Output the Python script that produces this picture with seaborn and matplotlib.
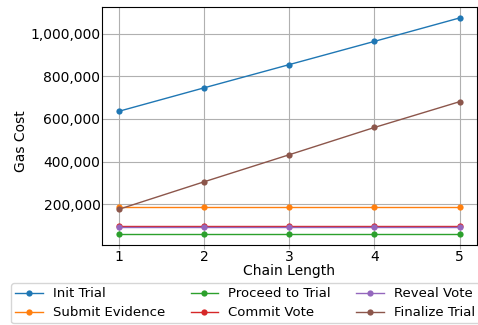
import matplotlib
matplotlib.use('Agg')
import matplotlib.pyplot as plt
import matplotlib.ticker as mticker
import seaborn as sns
import pandas as pd

# Data
chain_length = [1, 2, 3, 4, 5]
init_trial = [636000, 746000, 855000, 964000, 1074000]
submit_evidence = [187000, 187000, 187000, 187000, 187000]
proceed_to_trial = [59000, 59000, 59000, 59000, 59000]
commit_vote = [98000, 98000, 98000, 98000, 98000]
reveal_vote = [92000, 92000, 92000, 92000, 92000]
finalize_trial = [176000, 305000, 432000, 560000, 681000]

series = {
    'Init Trial': init_trial,
    'Submit Evidence': submit_evidence,
    'Proceed to Trial': proceed_to_trial,
    'Commit Vote': commit_vote,
    'Reveal Vote': reveal_vote,
    'Finalize Trial': finalize_trial,
}

rows = []
for name, vals in series.items():
    for x, v in zip(chain_length, vals):
        rows.append({'Chain Length': x, 'Gas Cost': v, 'Operation': name})
df = pd.DataFrame(rows)

plt.rcParams['font.family'] = ['DejaVu Sans']
plt.rcParams['font.size'] = 10

fig, ax = plt.subplots(figsize=(4.78, 3.25), dpi=100)
sns.lineplot(data=df, x='Chain Length', y='Gas Cost', hue='Operation',
             palette=sns.color_palette('tab10', 6), marker='o', markersize=4.5,
             markeredgewidth=0, linewidth=1, ax=ax)

ax.grid(True, color='#b0b0b0', linewidth=0.8)
ax.set_axisbelow(True)
ax.set_xticks(chain_length)
ax.yaxis.set_major_formatter(mticker.StrMethodFormatter('{x:,.0f}'))
ax.tick_params(axis='x', length=3, color='#b0b0b0', pad=0.5)
ax.tick_params(axis='y', length=0, pad=1)
ax.set_xlabel('Chain Length')
ax.set_ylabel('Gas Cost')
ax.xaxis.set_label_coords(0.5, -0.078)
ax.yaxis.set_label_coords(-0.197, 0.437)

handles, labels = ax.get_legend_handles_labels()
ax.legend(handles, labels, ncol=3, loc='upper left',
          bbox_to_anchor=(0.023, 0.128), bbox_transform=fig.transFigure,
          frameon=True, fontsize=9.5, handlelength=2.1, handletextpad=0.75,
          columnspacing=1.95, borderaxespad=0, borderpad=0.3, labelspacing=0.45)

fig.subplots_adjust(left=0.213, right=0.997, top=0.978, bottom=0.246)
fig.savefig('out.png', dpi=100)
